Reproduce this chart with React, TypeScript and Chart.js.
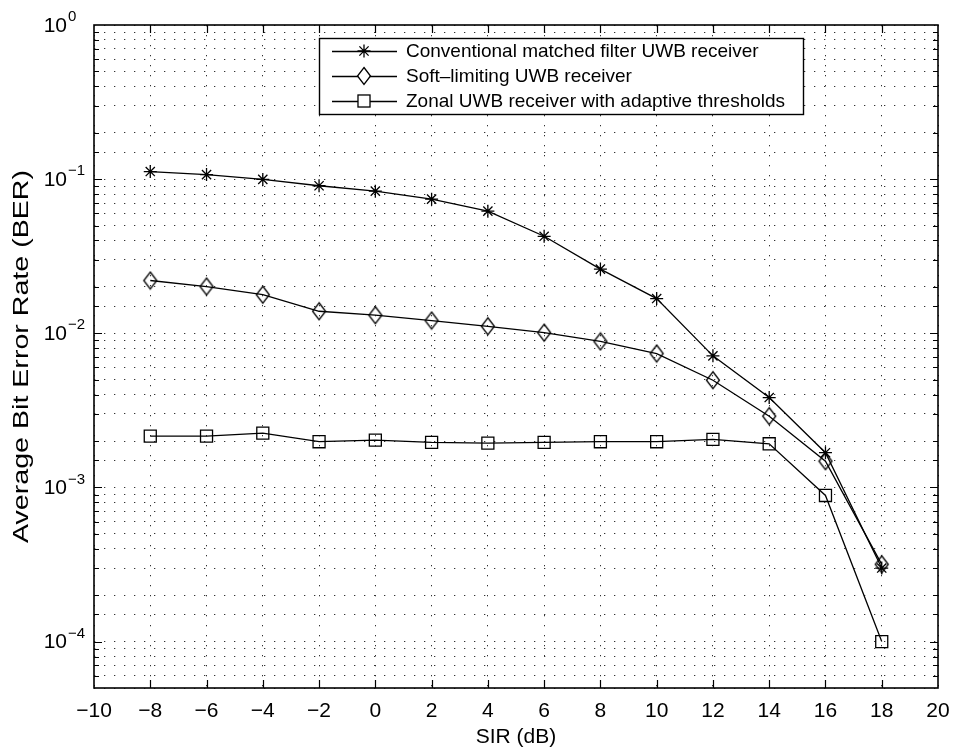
import React, { useEffect, useRef } from 'react';
import { Chart, registerables } from 'chart.js';

Chart.register(...registerables);

// ---------- data ----------
const sirDb = [-8, -6, -4, -2, 0, 2, 4, 6, 8, 10, 12, 14, 16, 18];
const conventionalBer = [0.112, 0.107, 0.0996, 0.0906, 0.0836, 0.0742, 0.062, 0.0426, 0.0261, 0.0168, 0.00714, 0.00383, 0.00168, 0.0003];
const softLimitingBer = [0.022, 0.0201, 0.0178, 0.0139, 0.0131, 0.0121, 0.0111, 0.0101, 0.00885, 0.00739, 0.00496, 0.0029, 0.00148, 0.000317];
const zonalBer = [0.00215, 0.00215, 0.00225, 0.00198, 0.00203, 0.00196, 0.00194, 0.00196, 0.00198, 0.00198, 0.00205, 0.00192, 0.000887, 0.0001];
const seriesLabels = [
  'Conventional matched filter UWB receiver',
  'Soft\u2013limiting UWB receiver',
  'Zonal UWB receiver with adaptive thresholds',
];
const xAxisTitle = 'SIR (dB)';
const yAxisTitle = 'Average Bit Error Rate (BER)';
const yDecadeExponents = [0, -1, -2, -3, -4];
const xMin = -10;
const xMax = 20;
const xStep = 2;
const yMin = 5e-5;
const yMax = 1;

const FONT = '"Liberation Sans", Arial, Helvetica, sans-serif';

function makeDiamond(): HTMLCanvasElement {
  const c = document.createElement('canvas');
  c.width = 16;
  c.height = 20;
  const g = c.getContext('2d')!;
  g.strokeStyle = '#000';
  g.lineWidth = 1.3;
  g.beginPath();
  g.moveTo(8, 1.5);
  g.lineTo(14.5, 10);
  g.lineTo(8, 18.5);
  g.lineTo(1.5, 10);
  g.closePath();
  g.stroke();
  return c;
}

function drawStar(ctx: CanvasRenderingContext2D, x: number, y: number, r: number) {
  ctx.beginPath();
  ctx.moveTo(x, y - r); ctx.lineTo(x, y + r);
  ctx.moveTo(x - r, y); ctx.lineTo(x + r, y);
  const d = r * Math.SQRT1_2;
  ctx.moveTo(x - d, y - d); ctx.lineTo(x + d, y + d);
  ctx.moveTo(x - d, y + d); ctx.lineTo(x + d, y - d);
  ctx.stroke();
}

const matlabPlugin = {
  id: 'matlabLook',
  afterDatasetsDraw(chart: any) {
    const { ctx, chartArea } = chart;
    const { left, right, top, bottom } = chartArea;
    const xs = chart.scales.x;
    const ys = chart.scales.y;
    ctx.save();
    ctx.setLineDash([]);
    ctx.strokeStyle = '#000';
    // inward ticks
    ctx.lineWidth = 1.2;
    ctx.beginPath();
    xs.ticks.forEach((t: any) => {
      if (t.value <= xMin || t.value >= xMax) return;
      const px = Math.round(xs.getPixelForValue(t.value)) + 0.5;
      ctx.moveTo(px, bottom); ctx.lineTo(px, bottom - 8);
      ctx.moveTo(px, top); ctx.lineTo(px, top + 8);
    });
    ys.ticks.forEach((t: any) => {
      const v = t.value;
      if (v <= yMin * 1.0001 || v >= yMax * 0.9999) return;
      const lg = Math.log10(v);
      const major = Math.abs(lg - Math.round(lg)) < 1e-6;
      const len = major ? 8 : 5;
      const py = Math.round(ys.getPixelForValue(v)) + 0.5;
      ctx.moveTo(left, py); ctx.lineTo(left + len, py);
      ctx.moveTo(right, py); ctx.lineTo(right - len, py);
    });
    ctx.stroke();
    // frame
    ctx.lineWidth = 1.6;
    ctx.strokeRect(left, top, right - left, bottom - top);

    // legend
    const lx0 = 319, ly0 = 38, lx1 = 803, ly1 = 114;
    ctx.fillStyle = '#fff';
    ctx.fillRect(lx0, ly0, lx1 - lx0, ly1 - ly0);
    ctx.lineWidth = 1.4;
    ctx.strokeRect(lx0 + 0.5, ly0 + 0.5, lx1 - lx0, ly1 - ly0);
    const rows = [51, 76, 101];
    chart.data.datasets.forEach((ds: any, i: number) => {
      const ry = rows[i];
      ctx.strokeStyle = '#000';
      ctx.lineWidth = 1.3;
      ctx.beginPath();
      ctx.moveTo(332, ry + 0.5);
      ctx.lineTo(397, ry + 0.5);
      ctx.stroke();
      const mx = 364;
      if (ds.pointStyle === 'star') {
        drawStar(ctx, mx, ry, ds.pointRadius);
      } else if (ds.pointStyle === 'rect') {
        const s = ds.pointRadius * Math.SQRT1_2;
        ctx.fillStyle = '#fff';
        ctx.fillRect(mx - s, ry - s, 2 * s, 2 * s);
        ctx.strokeRect(mx - s, ry - s, 2 * s, 2 * s);
      } else if (ds.pointStyle instanceof HTMLCanvasElement) {
        const im = ds.pointStyle as HTMLCanvasElement;
        ctx.fillStyle = '#fff';
        ctx.beginPath();
        ctx.moveTo(mx, ry - 8); ctx.lineTo(mx + 6, ry); ctx.lineTo(mx, ry + 8); ctx.lineTo(mx - 6, ry);
        ctx.closePath();
        ctx.fill();
        ctx.drawImage(im, mx - im.width / 2, ry - im.height / 2);
      }
      ctx.fillStyle = '#000';
      ctx.font = `19px ${FONT}`;
      ctx.textAlign = 'left';
      ctx.textBaseline = 'middle';
      ctx.fillText(ds.label, 406, ry + 1);
    });
    ctx.restore();
  },
  afterDraw(chart: any) {
    const { ctx, chartArea } = chart;
    const ys = chart.scales.y;
    ctx.save();
    ctx.fillStyle = '#000';
    ctx.textBaseline = 'middle';
    yDecadeExponents.forEach((e) => {
      const py = ys.getPixelForValue(Math.pow(10, e));
      ctx.font = `21px ${FONT}`;
      ctx.textAlign = 'right';
      ctx.fillText('10', 67, py + 1);
      ctx.font = `15px ${FONT}`;
      ctx.textAlign = 'left';
      const exTxt = e < 0 ? '\u2212' + String(-e) : String(e);
      ctx.fillText(exTxt, 68, py - 8);
    });
    // y title (stretched along its length like the scanned original)
    ctx.translate(22, (chartArea.top + chartArea.bottom) / 2);
    ctx.rotate(-Math.PI / 2);
    ctx.scale(1.3, 1);
    ctx.font = `22px ${FONT}`;
    ctx.textAlign = 'center';
    ctx.fillText(yAxisTitle, 0, 0);
    ctx.restore();
  },
};

export default function App() {
  const ref = useRef<HTMLCanvasElement | null>(null);
  useEffect(() => {
    if (!ref.current) return;
    const diamond = makeDiamond();
    const toPts = (ys: number[]) => sirDb.map((x, i) => ({ x, y: ys[i] }));
    const common = {
      borderColor: '#000',
      borderWidth: 1.3,
      pointBorderColor: '#000',
      pointBackgroundColor: 'rgba(0,0,0,0)',
      pointBorderWidth: 1.3,
      fill: false,
      tension: 0,
    };
    const chart = new Chart(ref.current, {
      type: 'line',
      data: {
        datasets: [
          { ...common, label: seriesLabels[0], data: toPts(conventionalBer), pointStyle: 'star', pointRadius: 6.5 },
          { ...common, label: seriesLabels[1], data: toPts(softLimitingBer), pointStyle: diamond as any, pointRadius: 8 },
          { ...common, label: seriesLabels[2], data: toPts(zonalBer), pointStyle: 'rect', pointRadius: 8.5 },
        ],
      },
      options: {
        responsive: false,
        animation: false,
        devicePixelRatio: 1,
        layout: { padding: { left: 0, right: 18, top: 25, bottom: 0 } },
        plugins: {
          legend: { display: false },
          tooltip: { enabled: false },
        },
        scales: {
          x: {
            type: 'linear',
            min: xMin,
            max: xMax,
            ticks: {
              stepSize: xStep,
              color: '#000',
              font: { family: FONT, size: 21 },
              padding: 11,
              maxRotation: 0,
              autoSkip: false,
              callback: (v: any) => (Number(v) < 0 ? '\u2212' + String(-Number(v)) : String(v)),
            },
            grid: { color: '#333', lineWidth: 1, drawTicks: false },
            border: { display: false, dash: [1.3, 8.7] },
            title: {
              display: true,
              text: xAxisTitle,
              color: '#000',
              font: { family: FONT, size: 21 },
              padding: { top: 0, bottom: 1 },
            },
            afterFit: (s: any) => { s.height = 63; s.paddingLeft = 0; s.paddingRight = 0; },
          },
          y: {
            type: 'logarithmic',
            min: yMin,
            max: yMax,
            ticks: { display: false },
            grid: { color: '#333', lineWidth: 1, drawTicks: false },
            border: { display: false, dash: [1.3, 8.7] },
            afterFit: (s: any) => { s.width = 94; s.paddingTop = 0; s.paddingBottom = 0; },
          },
        },
      },
      plugins: [matlabPlugin],
    });
    return () => chart.destroy();
  }, []);
  return (
    <div style={{ position: 'fixed', left: 0, top: 0, width: 956, height: 751, background: '#fff' }}>
      <canvas ref={ref} width={956} height={751} style={{ width: 956, height: 751, display: 'block' }} />
    </div>
  );
}
